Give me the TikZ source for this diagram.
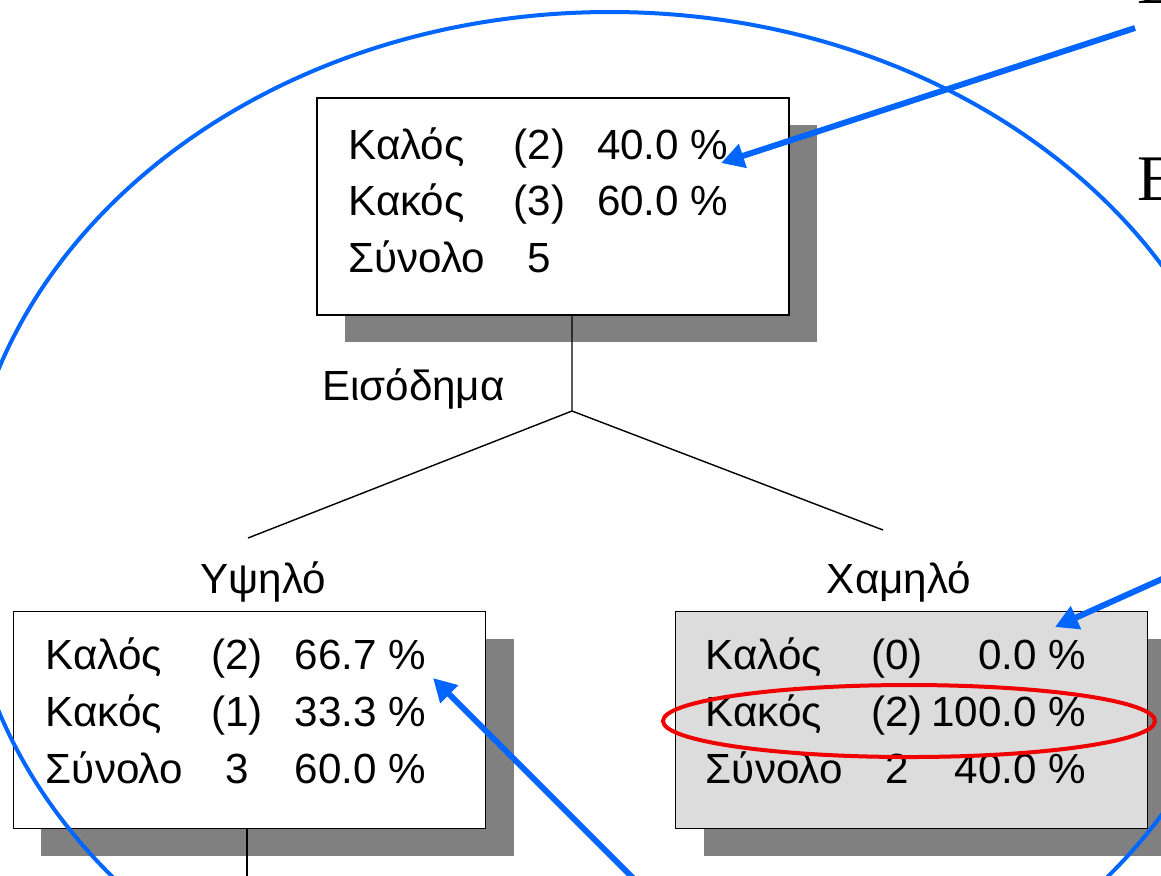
\documentclass[tikz,border=0pt]{standalone}
\usepackage{fontspec}
\setmainfont{Liberation Sans}
\newfontfamily\textserif{Liberation Serif}
\usepackage{array}
\usetikzlibrary{arrows.meta,shadows}
\definecolor{markblue}{HTML}{0066FF}
\definecolor{markred}{HTML}{F00000}
\definecolor{shadowgray}{HTML}{808080}
\definecolor{selectedgray}{HTML}{DCDCDC}
\tikzstyle{treebox} = [
    draw=black,
    line width=1.1pt,
    fill=white,
    rectangle,
    minimum width=94.4mm,
    minimum height=43.4mm,
    inner sep=0pt,
    drop shadow={shadow xshift=5.6mm, shadow yshift=-5.4mm, fill=shadowgray, opacity=1}
    ]
\tikzstyle{stats} = [anchor=base west, inner sep=0pt, font=\fontsize{24}{32.3}\selectfont]
\tikzstyle{lbl} = [inner sep=0pt, font=\fontsize{24}{29}\selectfont]
\tikzstyle{branch} = [line width=0.8pt]
\tikzstyle{pointer} = [
    draw=markblue,
    line width=3.4pt,
    -{Triangle[length=4.6mm, width=4.8mm]}
    ]
\newcommand{\statrows}[1]{% three columns: class, count, share
\begin{tabular}[t]{@{}w{l}{33mm}@{}w{c}{10.4mm}@{}w{r}{32.6mm}@{}}#1\end{tabular}}

\begin{document}
\begin{tikzpicture}[x=0.2mm, y=-0.2mm]
\useasboundingbox (0,0) rectangle (1161,875);
\clip (0,0) rectangle (1161,875);
\path[fill=white] (0,0) rectangle (1161,875);

% tree nodes
\node[treebox] (root) at (553,206.5) {};
\node[treebox] (high) at (249.5,720) {};
\node[treebox, fill=selectedgray] (low) at (911.5,720) {};

\node[stats] (rootstats) at ([xshift=6.4mm, yshift=-12.4mm]root.north west)
    {\statrows{Καλός & (2) & 40.0 \% \\ Κακός & (3) & 60.0 \% \\ Σύνολο & 5 & }};
\node[stats] (highstats) at ([xshift=6.6mm, yshift=-11.8mm]high.north west)
    {\statrows{Καλός & (2) & 66.7 \% \\ Κακός & (1) & 33.3 \% \\ Σύνολο & 3 & 60.0 \%}};
\node[stats] (lowstats) at ([xshift=6.2mm, yshift=-11.8mm]low.north west)
    {\statrows{Καλός & (0) & 0.0 \% \\ Κακός & (2) & 100.0 \% \\ Σύνολο & 2 & 40.0 \%}};

% split
\coordinate (split) at (572,411);
\coordinate (highend) at (248,538);
\coordinate (lowend) at (883,530);
\coordinate (highstub) at (247,890);
\draw[branch] (split |- root.south) -- (split) -- (highend);
\draw[branch] (split) -- (lowend);
\draw[branch] (high.south -| highstub) -- (highstub);

\node[lbl, anchor=base east] (income) at ([xshift=-13.4mm, yshift=2.2mm]split) {Εισόδημα};
\node[lbl, anchor=base] (highlbl) at ([xshift=2.8mm, yshift=3.4mm]high.north) {Υψηλό};
\node[lbl, anchor=base] (lowlbl) at ([xshift=-2.5mm, yshift=3.4mm]low.north) {Χαμηλό};

% marks on top
\draw[markblue, line width=0.8mm] (610,540) ellipse [x radius=646, y radius=528];
\draw[markred, line width=0.8mm] (909,721) ellipse [x radius=246, y radius=36];

\coordinate (tailA) at (1135,28);
\coordinate (tipA) at (721,163);
\coordinate (tailB) at (1200,562);
\coordinate (tipB) at (1055,627);
\coordinate (tailC) at (640,885);
\coordinate (tipC) at (433,678);
\draw[pointer] (tailA) -- (tipA);
\draw[pointer] (tailB) -- (tipB);
\draw[pointer] (tailC) -- (tipC);

% cut-off text at the right
\node[anchor=base west, inner sep=0pt, font=\textserif\fontsize{37}{40}\selectfont] (capE) at (1137,200) {Ε};
\node[anchor=base west, inner sep=0pt, font=\textserif\fontsize{37}{40}\selectfont] (capTop) at (1137,3) {Ε};
\end{tikzpicture}
\end{document}
